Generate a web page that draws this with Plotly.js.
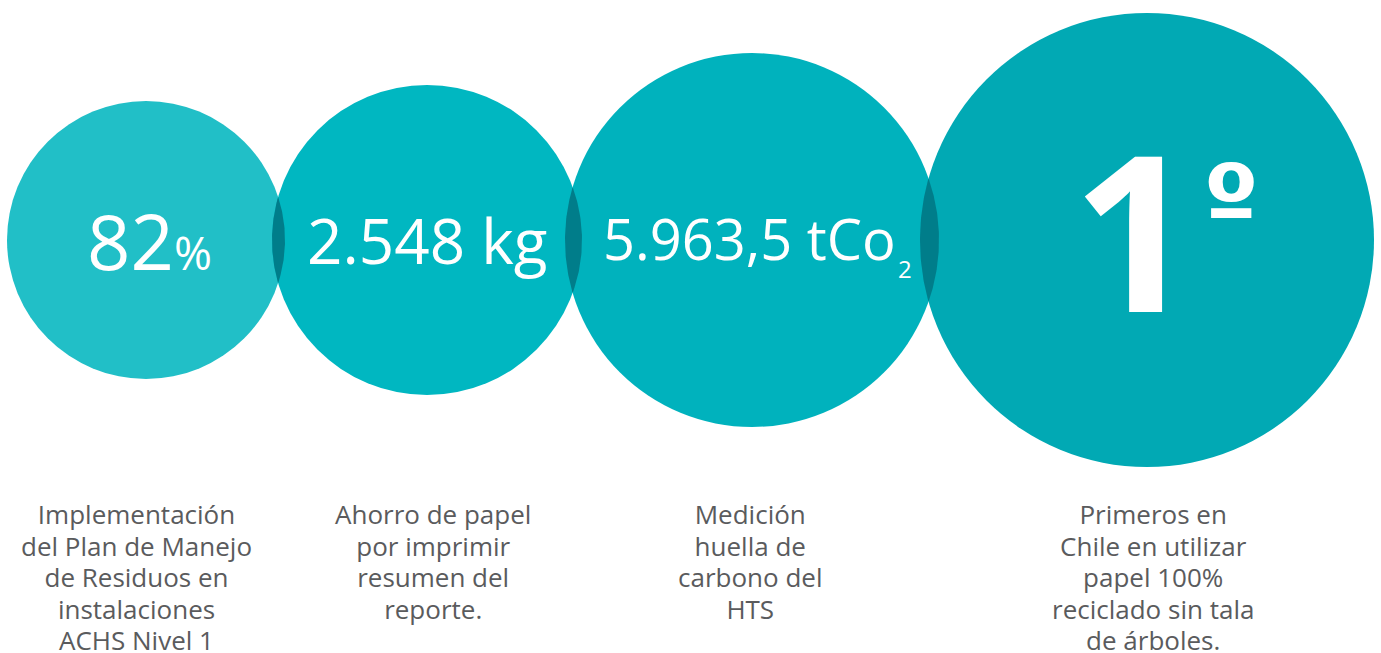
<!DOCTYPE html>
<html>
<head>
<meta charset="utf-8">
<script src="https://cdn.plot.ly/plotly-3.0.1.min.js"></script>
<style>html,body{margin:0;padding:0;background:#fff;}#chart{width:1381px;height:653px;}</style>
</head>
<body>
<div id="chart"></div>
<script>
// ---- data ----
const centersX = [146, 427, 752, 1147];
const radii = [139, 155, 187, 227];
const centerY = 240;
const valueMain = ['82', '2.548 kg', '5.963,5 tCo', '1'];
const valueSuffix = ['%', '', '2', 'º'];
const labelLines = [
  ['Implementación', 'del Plan de Manejo', 'de Residuos en', 'instalaciones', 'ACHS Nivel 1'],
  ['Ahorro de papel', 'por imprimir', 'resumen del', 'reporte.'],
  ['Medición', 'huella de', 'carbono del', 'HTS'],
  ['Primeros en', 'Chile en utilizar', 'papel 100%', 'reciclado sin tala', 'de árboles.']
];
const labelCentersX = [136, 433, 750, 1153];

// ---- styles ----
const circleColors = ['#21BFC7', '#00B7C1', '#00B2BD', '#01A9B4'];
const overlapColor = '#007D8A';
const font = 'Open Sans, Noto Sans, sans-serif';
const gray = '#5A5B5D';

const shapes = centersX.map((cx, i) => ({
  type: 'circle', xref: 'x', yref: 'y', layer: 'below',
  x0: cx - radii[i], x1: cx + radii[i], y0: centerY - radii[i], y1: centerY + radii[i],
  fillcolor: circleColors[i], line: {width: 0}
}));

// overlap lenses between neighbouring circles
const traces = [];
for (let i = 0; i < centersX.length - 1; i++) {
  const x1 = centersX[i], r1 = radii[i], x2 = centersX[i + 1], r2 = radii[i + 1];
  const d = x2 - x1;
  const a = (d * d + r1 * r1 - r2 * r2) / (2 * d);
  const h = Math.sqrt(r1 * r1 - a * a);
  const t1 = Math.atan2(h, a), t2 = Math.atan2(h, d - a);
  const xs = [], ys = [];
  const n = 60;
  for (let k = 0; k <= n; k++) {
    const t = -t1 + 2 * t1 * k / n;
    xs.push(x1 + r1 * Math.cos(t)); ys.push(centerY + r1 * Math.sin(t));
  }
  for (let k = 0; k <= n; k++) {
    const t = Math.PI - t2 + 2 * t2 * k / n;
    xs.push(x2 + r2 * Math.cos(t)); ys.push(centerY + r2 * Math.sin(t));
  }
  traces.push({x: xs, y: ys, type: 'scatter', mode: 'lines', fill: 'toself',
    fillcolor: overlapColor, line: {width: 0}, hoverinfo: 'skip', showlegend: false});
}

const annotations = [];
const W = '#FFFFFF';
annotations.push({x: 149, y: 240, text: valueMain[0] + "<span style='font-size:46px'>" + valueSuffix[0] + "</span>",
  font: {family: font, size: 76, color: W}, showarrow: false, xanchor: 'center', yanchor: 'middle'});
annotations.push({x: 427, y: 240, text: valueMain[1],
  font: {family: font, size: 62, color: W}, showarrow: false, xanchor: 'center', yanchor: 'middle'});
annotations.push({x: 749, y: 238, text: valueMain[2],
  font: {family: font, size: 56, color: W}, showarrow: false, xanchor: 'center', yanchor: 'middle'});
annotations.push({x: 905, y: 268, text: valueSuffix[2],
  font: {family: font, size: 24, color: W}, showarrow: false, xanchor: 'center', yanchor: 'middle'});
annotations.push({x: 1134, y: 227, text: valueMain[3],
  font: {family: font, size: 218, color: W, weight: 700}, showarrow: false, xanchor: 'center', yanchor: 'middle'});
annotations.push({x: 1231, y: 201, text: valueSuffix[3],
  font: {family: 'DejaVu Sans, Liberation Sans, sans-serif', size: 100, color: W, weight: 700}, showarrow: false, xanchor: 'center', yanchor: 'middle'});

// one annotation per label; base size sets line spacing (1.3 x 24.2 = 31.5px), spans set glyph size
const lineGap = 31.5;
labelLines.forEach((lines, i) => {
  const txt = lines.map(l => "<span style='font-size:26px'>" + l + "</span>").join('<br>');
  annotations.push({x: labelCentersX[i], y: 514 + (lines.length - 1) * lineGap / 2, text: txt,
    font: {family: font, size: lineGap / 1.3, color: gray}, align: 'center',
    showarrow: false, xanchor: 'center', yanchor: 'middle'});
});

const layout = {
  width: 1381, height: 653,
  margin: {l: 0, r: 0, t: 0, b: 0},
  paper_bgcolor: '#FFFFFF', plot_bgcolor: '#FFFFFF',
  xaxis: {range: [0, 1381], visible: false, fixedrange: true},
  yaxis: {range: [653, 0], visible: false, fixedrange: true},
  shapes: shapes,
  annotations: annotations,
  showlegend: false
};
Plotly.newPlot('chart', traces, layout, {staticPlot: true, displayModeBar: false});
</script>
</body>
</html>
